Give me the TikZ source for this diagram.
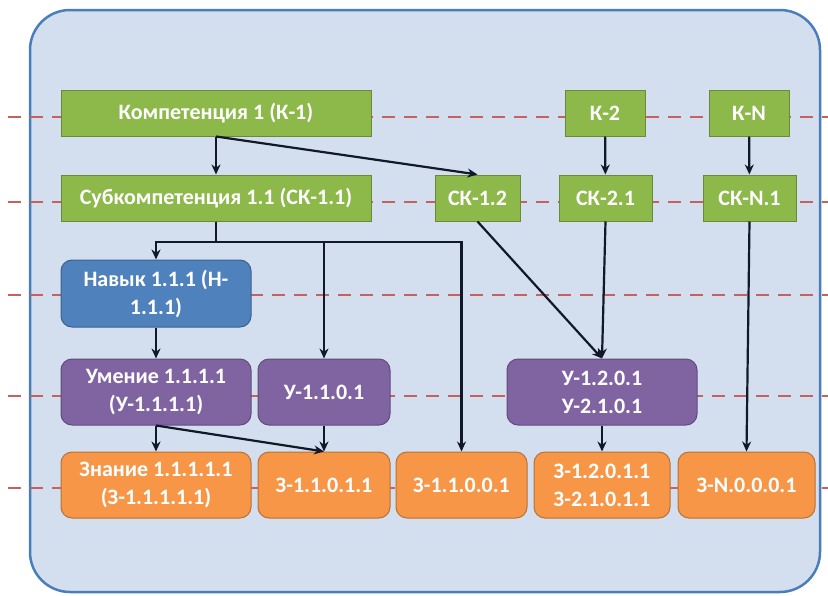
\documentclass[tikz,border=0pt]{standalone}
\usepackage{fontspec}
\setmainfont{Carlito}
\definecolor{frameblue}{HTML}{4A7EBB}
\definecolor{framefill}{HTML}{D3DFEE}
\definecolor{compgreen}{HTML}{8DB84A}
\definecolor{skillblue}{HTML}{4F81BD}
\definecolor{abilpurple}{HTML}{8064A2}
\definecolor{knoworange}{HTML}{F79646}
\definecolor{levelred}{HTML}{C0504D}
\definecolor{arrowdark}{HTML}{111827}
\usetikzlibrary{arrows.meta, calc}
\tikzset{
  cbox/.style={
    draw=#1!75!black, fill=#1, line width=1pt, inner sep=2pt,
    minimum height=46pt, font=\fontsize{22}{28}\selectfont\bfseries,
    text=white, align=center
  },
  cbox/.default=compgreen,
  rbox/.style={cbox=#1, rounded corners=11pt, minimum height=66pt},
  rbox/.default=knoworange,
  arr/.style={-{Stealth[length=10pt,width=9pt]}, line width=2.2pt, color=arrowdark},
  level/.style={dash pattern=on 13pt off 9pt, line width=2.5pt, color=levelred!90},
}

\begin{document}
\begin{tikzpicture}[x=1pt, y=-1pt]
  \useasboundingbox (0,0) rectangle (828,595);

  % Frame
  \draw[frameblue, fill=framefill, line width=2.5pt, rounded corners=40pt]
    (30,10) rectangle (820,592);

  % Levels
  \foreach \ly in {117,202,295,396,488}
    \draw[level] (8,\ly) -- (828,\ly);

  % Competences
  \node[cbox, minimum width=310pt] (k1) at (216,113) {Компетенция 1 (К-1)};
  \node[cbox, minimum width=80pt] (k2) at (605,113) {К-2};
  \node[cbox, minimum width=80pt] (kn) at (749,113) {К-N};

  % Subcompetences
  \node[cbox, minimum width=310pt] (sk11) at (216,198) {Субкомпетенция 1.1 (СК-1.1)};
  \node[cbox, minimum width=85pt] (sk12) at (477.5,198) {СК-1.2};
  \node[cbox, minimum width=93pt] (sk21) at (605.5,198) {СК-2.1};
  \node[cbox, minimum width=93pt] (skn1) at (749.5,198) {СК-N.1};

  % Skills
  \node[rbox=skillblue, minimum width=190pt, minimum height=67pt] (n111) at (156,293.5)
    {Навык 1.1.1 (Н-\\1.1.1)};

  % Abilities
  \node[rbox=abilpurple, minimum width=190pt] (u1111) at (156,392)
    {Умение 1.1.1.1\\(У-1.1.1.1)};
  \node[rbox=abilpurple, minimum width=132pt] (u1101) at (324,392) {У-1.1.0.1};
  \node[rbox=abilpurple, minimum width=190pt] (u1201) at (602,392)
    {У-1.2.0.1\\У-2.1.0.1};

  % Knowledge
  \node[rbox, minimum width=190pt] (z11111) at (156,485)
    {Знание 1.1.1.1.1\\(З-1.1.1.1.1)};
  \node[rbox, minimum width=132pt] (z11011) at (324,485) {З-1.1.0.1.1};
  \node[rbox, minimum width=131pt] (z11001) at (461.5,485) {З-1.1.0.0.1};
  \node[rbox, minimum width=136pt] (z12011) at (602,485)
    {З-1.2.0.1.1\\З-2.1.0.1.1};
  \node[rbox, minimum width=137pt] (zn0001) at (746.5,485) {З-N.0.0.0.1};

  % Links
  \draw[arr] (k1) -- (sk11);
  \draw[arr] (k1.south) -- (sk12.north);
  \draw[arr] (k2) -- (sk21);
  \draw[arr] (kn) -- (skn1);

  \coordinate (split) at (216,242);
  \draw[arr] (sk11.south) -- (split) -| (n111);
  \draw[arr] (sk11.south) -- (split) -| (u1101);
  \draw[arr] (sk11.south) -- (split) -| (z11001);

  \draw[arr] (sk12.south) -- (u1201.north);
  \draw[arr] (sk21.south) -- (u1201.north);
  \draw[arr] (skn1.south) -- (zn0001.north);

  \draw[arr] (n111) -- (u1111);
  \draw[arr] (u1111) -- (z11111);
  \draw[arr] (u1111.south) -- (z11011.north);
  \draw[arr] (u1101) -- (z11011);
  \draw[arr] (u1201) -- (z12011);
\end{tikzpicture}
\end{document}
